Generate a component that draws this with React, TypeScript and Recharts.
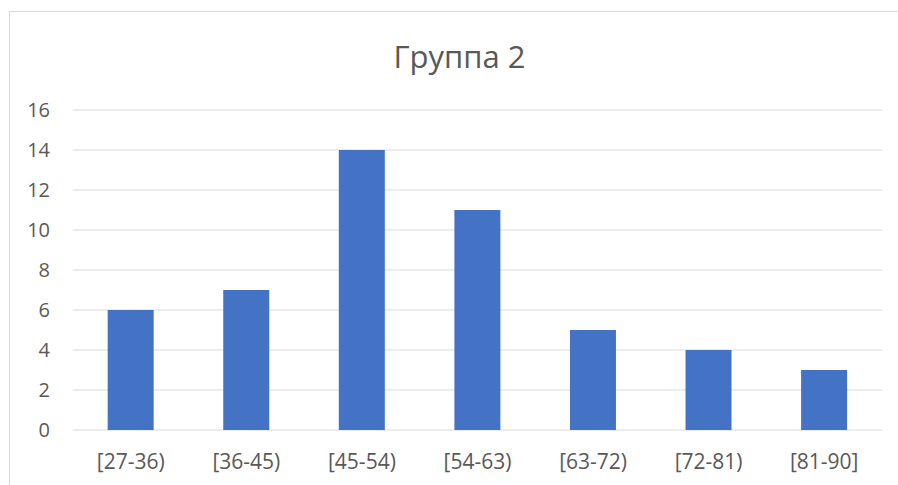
import React from "react";
import { BarChart, Bar, XAxis, YAxis, CartesianGrid } from "recharts";

const categories = ["[27-36)", "[36-45)", "[45-54)", "[54-63)", "[63-72)", "[72-81)", "[81-90]"];
const counts = [6, 7, 14, 11, 5, 4, 3];
const yTicks = [0, 2, 4, 6, 8, 10, 12, 14, 16];
const title = "Группа 2";

const data = categories.map((c, i) => ({ name: c, value: counts[i] }));

const FONT = "'Open Sans', 'Liberation Sans', sans-serif";
const TEXT = "#595959";

export default function App() {
  return (
    <div style={{ position: "absolute", left: 0, top: 0, width: 898, height: 485, background: "#fff", overflow: "hidden" }}>
      <div
        style={{
          position: "absolute",
          left: 9,
          top: 11,
          width: 950,
          height: 520,
          borderLeft: "1px solid #d9d9d9",
          borderTop: "1px solid #d9d9d9",
        }}
      />
      <div style={{ position: "absolute", left: 0, top: 0 }}>
        <BarChart
          width={898}
          height={485}
          data={data}
          margin={{ top: 110, right: 16, bottom: 15, left: 0 }}
          barCategoryGap="30%"
        >
          <CartesianGrid vertical={false} stroke="#d9d9d9" strokeWidth={1} />
          <XAxis
            dataKey="name"
            axisLine={false}
            tickLine={false}
            tickSize={0}
            tickMargin={24}
            height={40}
            interval={0}
            tick={{ fill: TEXT, fontSize: 21, fontFamily: FONT }}
          />
          <YAxis
            domain={[0, 16]}
            ticks={yTicks}
            axisLine={false}
            tickLine={false}
            tickSize={0}
            tickMargin={23}
            width={73}
            interval={0}
            tick={{ fill: TEXT, fontSize: 20, fontFamily: FONT }}
          />
          <Bar dataKey="value" fill="#4472C4" isAnimationActive={false} />
        </BarChart>
      </div>
      <svg width={898} height={485} style={{ position: "absolute", left: 0, top: 0, pointerEvents: "none" }}>
        <text x={459.5} y={68} textAnchor="middle" fill={TEXT} fontSize={31} fontFamily={FONT}>
          {title}
        </text>
      </svg>
    </div>
  );
}
